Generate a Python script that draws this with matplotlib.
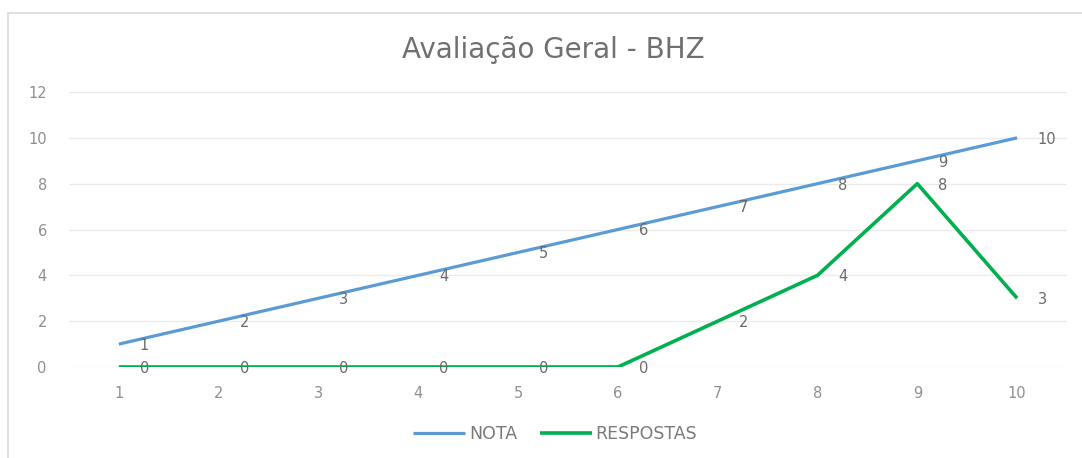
import matplotlib.pyplot as plt
from matplotlib.patches import Rectangle

# dados do gráfico
categorias = [1, 2, 3, 4, 5, 6, 7, 8, 9, 10]
nota = [1, 2, 3, 4, 5, 6, 7, 8, 9, 10]
respostas = [0, 0, 0, 0, 0, 0, 2, 4, 8, 3]
y_ticks = [0, 2, 4, 6, 8, 10, 12]

plt.rcParams['font.family'] = ['DejaVu Sans']

fig = plt.figure(figsize=(10.82, 4.58), dpi=100)
ax = fig.add_axes([69 / 1082, 1 - 367 / 458, 998 / 1082, 275 / 458])

# moldura do gráfico (estilo Excel)
fig.patches.append(Rectangle((8 / 1082, -0.02), 1.1, 1 - 13 / 458 + 0.02,
                             transform=fig.transFigure, fill=False,
                             edgecolor='#d9d9d9', linewidth=1.2))

ax.plot(categorias, nota, color='#5B9BD5', linewidth=2.3, label='NOTA',
        solid_capstyle='butt', zorder=3)
ax.plot(categorias, respostas, color='#00B050', linewidth=2.6, label='RESPOSTAS',
        solid_capstyle='butt', zorder=3)

# rótulos de dados à direita dos pontos
for serie in (nota, respostas):
    for x, v in zip(categorias, serie):
        ax.annotate(str(v), xy=(x, v), xytext=(15, -1), textcoords='offset points',
                    ha='left', va='center', fontsize=10.5, color='#6a6a6a', zorder=4)

ax.set_xlim(0.5, 10.5)
ax.set_ylim(0, 12)
ax.set_xticks(categorias)
ax.set_yticks(y_ticks)
ax.tick_params(axis='both', length=0, labelsize=10.5, colors='#8f8f8f')
ax.tick_params(axis='x', pad=14)
ax.tick_params(axis='y', pad=16)
ax.grid(axis='y', color='#ebebeb', linewidth=1)
ax.set_axisbelow(True)
for s in ax.spines.values():
    s.set_visible(False)

fig.text(553 / 1082, 1 - 50 / 458, 'Avaliação Geral - BHZ', ha='center', va='center',
         fontsize=20, color='#707070')

ax.legend(loc='center', bbox_to_anchor=(0.487, -0.243), ncol=2,
          frameon=False, fontsize=12.5, labelcolor='#7a7a7a', handlelength=3.0,
          handletextpad=0.2, columnspacing=1.3)

fig.savefig('out.png', dpi=100)
